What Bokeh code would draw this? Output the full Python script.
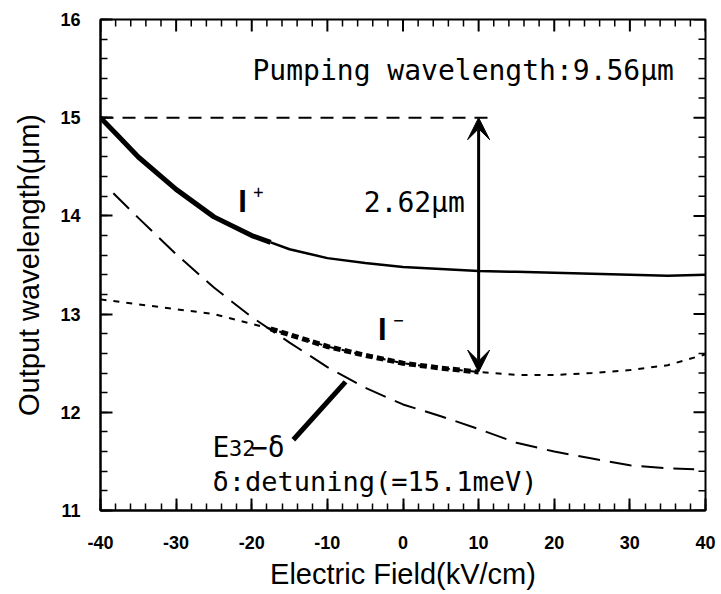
import math
from bokeh.plotting import figure
from bokeh.models import SingleIntervalTicker, Arrow, VeeHead, Label, Range1d
from bokeh.embed import file_html
from bokeh.resources import INLINE

# ---- data ----
ip_field = [-40, -37.5, -35, -30, -25, -20, -17.5, -15, -10, -5, 0, 5, 10, 15, 20, 25, 30, 35, 40]
ip_wl = [15.00, 14.80, 14.60, 14.27, 13.99, 13.80, 13.73, 13.66, 13.57, 13.52, 13.48, 13.46,
         13.44, 13.43, 13.42, 13.41, 13.40, 13.39, 13.40]
im_field = [-40, -35, -30, -25, -20, -17.5, -15, -10, -5, 0, 5, 10, 15, 20, 25, 30, 35, 40]
im_wl = [13.15, 13.10, 13.05, 13.00, 12.90, 12.85, 12.79, 12.67, 12.58, 12.50, 12.45, 12.41,
         12.38, 12.38, 12.40, 12.43, 12.48, 12.59]
e32_field = [-38.3, -35, -30, -25, -20, -15, -10, -5, 0, 5, 10, 15, 20, 25, 30, 35, 38.5]
e32_wl = [14.23, 13.98, 13.61, 13.27, 12.97, 12.71, 12.46, 12.25, 12.08, 11.96, 11.83, 11.69,
          11.60, 11.53, 11.46, 11.43, 11.42]
pump_out_wl = 15.0
pump_line_end = 12.0
arrow_field = 10.0
arrow_bottom = 12.41
bold_start = -17.5
bold_end = 10.0

x_min, x_max = -40, 40
y_min, y_max = 11, 16
x_major = list(range(-40, 41, 10))
x_minor = [v for v in range(-40, 41, 2) if v % 10 != 0]
y_major = list(range(11, 17))
y_minor = [round(11 + 0.2 * k, 1) for k in range(26) if k % 5 != 0]

MONO = "DejaVu Sans Mono"
SANS = "Liberation Sans"

p = figure(width=719, height=592, x_range=Range1d(x_min, x_max), y_range=Range1d(y_min, y_max),
           output_backend="svg", toolbar_location=None,
           min_border_left=100, min_border_right=14, min_border_top=19, min_border_bottom=81)
p.xgrid.visible = False
p.ygrid.visible = False
p.outline_line_color = "black"
p.outline_line_width = 2
p.background_fill_color = "white"
p.border_fill_color = "white"


def style_axis(ax):
    ax.axis_line_width = 2
    ax.axis_line_color = "black"
    ax.major_tick_in = 12
    ax.major_tick_out = 0
    ax.minor_tick_in = 7
    ax.minor_tick_out = 0
    ax.major_tick_line_width = 2
    ax.minor_tick_line_width = 1.5
    ax.major_tick_line_color = "black"
    ax.minor_tick_line_color = "black"
    ax.major_label_text_font = SANS
    ax.major_label_text_font_style = "bold"
    ax.major_label_text_font_size = "18px"
    ax.major_label_text_color = "black"
    ax.axis_label_text_font = SANS
    ax.axis_label_text_font_style = "normal"
    ax.axis_label_text_font_size = "29px"
    ax.axis_label_text_color = "black"


xa = p.xaxis[0]
xa.ticker = SingleIntervalTicker(interval=10, num_minor_ticks=5)
xa.axis_label = "Electric Field(kV/cm)"
style_axis(xa)
xa.major_label_overrides = {v: str(v) for v in x_major}
xa.major_label_standoff = 25
xa.axis_label_standoff = 6

ya = p.yaxis[0]
ya.ticker = SingleIntervalTicker(interval=1, num_minor_ticks=5)
ya.axis_label = "Output wavelength(μm)"
style_axis(ya)
ya.major_label_overrides = {v: str(v) for v in y_major}
ya.major_label_standoff = 20
ya.axis_label_standoff = 12

# ---- ticks on top and right frame edges (inward) ----
p.ray(x=x_major, y=[y_max] * len(x_major), length=12, length_units="screen",
      angle=-math.pi / 2, line_color="black", line_width=2)
p.ray(x=x_minor, y=[y_max] * len(x_minor), length=7, length_units="screen",
      angle=-math.pi / 2, line_color="black", line_width=1.5)
p.ray(x=[x_max] * len(y_major), y=y_major, length=12, length_units="screen",
      angle=math.pi, line_color="black", line_width=2)
p.ray(x=[x_max] * len(y_minor), y=y_minor, length=7, length_units="screen",
      angle=math.pi, line_color="black", line_width=1.5)

# ---- curves ----
i_b = ip_field.index(bold_start)
p.line(ip_field[:i_b + 1], ip_wl[:i_b + 1], line_color="black", line_width=5, line_join="round")
p.line(ip_field[i_b:], ip_wl[i_b:], line_color="black", line_width=2.5, line_join="round")

p.line(im_field, im_wl, line_color="black", line_width=2, line_dash="6 7")
j0 = im_field.index(bold_start)
j1 = im_field.index(bold_end)
p.line(im_field[j0:j1 + 1], im_wl[j0:j1 + 1], line_color="black", line_width=5, line_dash="7 4")

p.line(e32_field, e32_wl, line_color="black", line_width=2, line_dash="22 10")

p.line([x_min, pump_line_end], [pump_out_wl, pump_out_wl], line_color="black", line_width=2,
       line_dash="13 9")

p.add_layout(Arrow(x_start=arrow_field, y_start=arrow_bottom, x_end=arrow_field, y_end=pump_out_wl,
                   line_width=3, line_color="black",
                   end=VeeHead(size=22, fill_color="black", line_color="black"),
                   start=VeeHead(size=22, fill_color="black", line_color="black")))

p.line([-14.5, -7.6], [11.72, 12.31], line_color="black", line_width=5)


# ---- texts ----
def lab(x, y, t, size, font=MONO, baseline="middle", style="normal"):
    p.add_layout(Label(x=x, y=y, text=t, text_font=font, text_font_size=size,
                       text_font_style=style,
                       text_color="black", text_baseline=baseline, text_align="left"))


lab(-19.9, 15.48, "Pumping wavelength:9.56μm", "28px")
lab(-5.2, 14.14, "2.62μm", "28px")
lab(-21.8, 14.15, "I", "31px", font=SANS, style="bold")
lab(-19.8, 14.25, "+", "17px")
lab(-3.3, 12.84, "I", "31px", font=SANS, style="bold")
lab(-1.3, 12.95, "−", "17px")
lab(-25.2, 11.64, "E", "28px", baseline="alphabetic")
lab(-23.0, 11.64, "32", "22px", baseline="alphabetic")
lab(-20.1, 11.64, "−δ", "28px", baseline="alphabetic")
lab(-25.2, 11.30, "δ:detuning(=15.1meV)", "27px")

open("out.html", "w").write(file_html(p, INLINE))
